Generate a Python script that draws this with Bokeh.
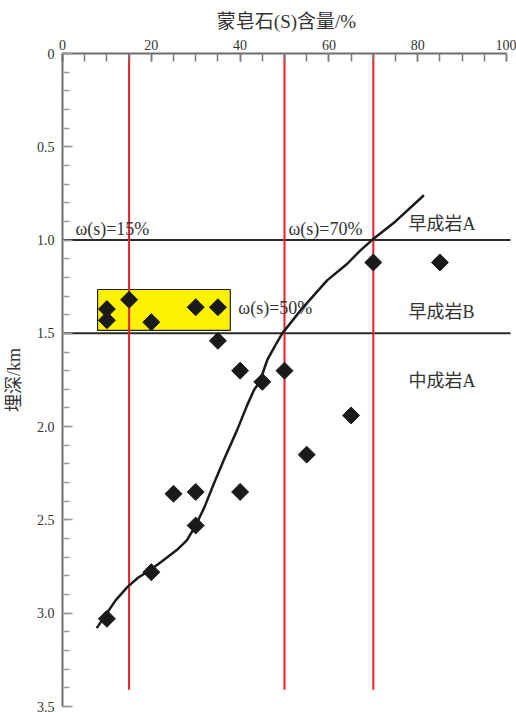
import numpy as np
from bokeh.plotting import figure
from bokeh.models import Range1d, FixedTicker
from bokeh.core.properties import value
from bokeh.embed import file_html
from bokeh.resources import INLINE

# ---- data ----
pts_s = [10, 10, 15, 20, 30, 35, 35, 40, 45, 50, 70, 85, 10, 20, 30, 25, 30, 40, 55, 65]
pts_depth = [1.37, 1.43, 1.32, 1.44, 1.36, 1.36, 1.54, 1.70, 1.76, 1.70, 1.12, 1.12,
             3.03, 2.78, 2.53, 2.36, 2.35, 2.35, 2.15, 1.94]

curve_s = [7.7, 10, 12, 14.6, 17, 19.7, 22.5, 25.8, 28, 30, 32, 34.1, 36.5, 39.3, 41.5,
           43.1, 44.4, 46.1, 47.8, 49.5, 53.6, 59.6, 64, 67.1, 69.7, 75, 81.4]
curve_depth = [3.08, 3.0, 2.93, 2.86, 2.81, 2.77, 2.72, 2.66, 2.61, 2.53, 2.43, 2.305, 2.17,
               2.02, 1.89, 1.805, 1.76, 1.644, 1.57, 1.50, 1.377, 1.216, 1.13, 1.055, 1.0, 0.9, 0.76]

red_lines_s = [15, 50, 70]
red_line_depth = [0, 3.41]
zone_bounds_depth = [1.0, 1.5]
zone_line_s = [0, 101]

box_s = [7.9, 37.8]
box_depth = [1.265, 1.484]

w_labels = ["ω(s)=15%", "ω(s)=70%", "ω(s)=50%"]
w_label_s = [2.9, 50.9, 39.6]
w_label_depth = [0.943, 0.943, 1.366]

zone_labels = ["早成岩A", "早成岩B", "中成岩A"]
zone_label_s = [77.9, 77.9, 77.9]
zone_label_depth = [0.916, 1.388, 1.758]

x_ticks = [0, 20, 40, 60, 80, 100]
x_minor = list(range(0, 101, 5))
y_ticks = [0, 0.5, 1.0, 1.5, 2.0, 2.5, 3.0, 3.5]
y_tick_labels = ["0", "0.5", "1.0", "1.5", "2.0", "2.5", "3.0", "3.5"]
y_minor = [round(0.1 * i, 1) for i in range(36)]

x_title = "蒙皂石(S)含量/%"
y_title = "埋深/km"

FONT = "Liberation Serif, Noto Sans CJK SC"
TXT = "#333333"

p = figure(width=516, height=712, output_backend="svg", toolbar_location=None,
           x_range=Range1d(0, 100.9), y_range=Range1d(3.5, 0),
           x_axis_location="above", min_border_left=62, min_border_right=6,
           min_border_top=53, min_border_bottom=6)
p.outline_line_color = None
p.xgrid.visible = False
p.ygrid.visible = False
p.background_fill_color = "white"

# top axis
xa = p.xaxis[0]
xa.bounds = (0, 100)
xa.ticker = FixedTicker(ticks=x_ticks, minor_ticks=x_minor)
xa.axis_label = x_title
xa.axis_label_text_font = FONT
xa.axis_label_text_font_style = "normal"
xa.axis_label_text_font_size = "19px"
xa.axis_label_text_color = TXT
xa.axis_label_standoff = 5
xa.major_label_text_font = FONT
xa.major_label_text_font_size = "14px"
xa.major_label_text_color = TXT
xa.major_label_standoff = 4
xa.axis_line_color = "#6e6e6e"
xa.axis_line_width = 2
xa.major_tick_in = 8
xa.major_tick_out = 0
xa.minor_tick_in = 8
xa.minor_tick_out = 0
xa.major_tick_line_color = "#7a7a7a"
xa.minor_tick_line_color = "#7a7a7a"
xa.major_tick_line_width = 1.5
xa.minor_tick_line_width = 1.5

# left axis
ya = p.yaxis[0]
ya.ticker = FixedTicker(ticks=y_ticks, minor_ticks=y_minor)
ya.major_label_overrides = {t: l for t, l in zip(y_ticks, y_tick_labels)}
ya.axis_label = y_title
ya.axis_label_text_font = FONT
ya.axis_label_text_font_style = "normal"
ya.axis_label_text_font_size = "18px"
ya.axis_label_text_color = TXT
ya.axis_label_standoff = 10
ya.major_label_text_font = FONT
ya.major_label_text_font_size = "14px"
ya.major_label_text_color = TXT
ya.major_label_standoff = 8
ya.axis_line_color = "#6e6e6e"
ya.axis_line_width = 2
ya.major_tick_in = 10
ya.major_tick_out = 0
ya.minor_tick_in = 7
ya.minor_tick_out = 0
ya.major_tick_line_color = "#9a9a9a"
ya.minor_tick_line_color = "#9a9a9a"
ya.major_tick_line_width = 1.5
ya.minor_tick_line_width = 1.5

# yellow box
p.quad(left=[box_s[0]], right=[box_s[1]], top=[box_depth[0]], bottom=[box_depth[1]],
       fill_color="#FFF200", line_color="#222222", line_width=1.2)

# zone boundary lines
for d in zone_bounds_depth:
    p.line(zone_line_s, [d, d], line_color="#2a2a2a", line_width=2)

# red lines
for s in red_lines_s:
    p.line([s, s], red_line_depth, line_color="#EE1C25", line_width=2)

# curve
p.line(curve_s, curve_depth, line_color="#1a1a1a", line_width=2.5)

# points
p.scatter(pts_s, pts_depth, marker="square", angle=np.pi / 4, size=12,
          fill_color="#1a1a1a", line_color="#1a1a1a")

# texts
p.text(w_label_s, w_label_depth, text=w_labels, text_font=value(FONT),
       text_font_size="18px", text_color=TXT, text_baseline="middle", text_align="left")
p.text(zone_label_s, zone_label_depth, text=zone_labels, text_font=value(FONT),
       text_font_size="18px", text_color=TXT, text_baseline="middle", text_align="left")

open("out.html", "w").write(file_html(p, INLINE))
